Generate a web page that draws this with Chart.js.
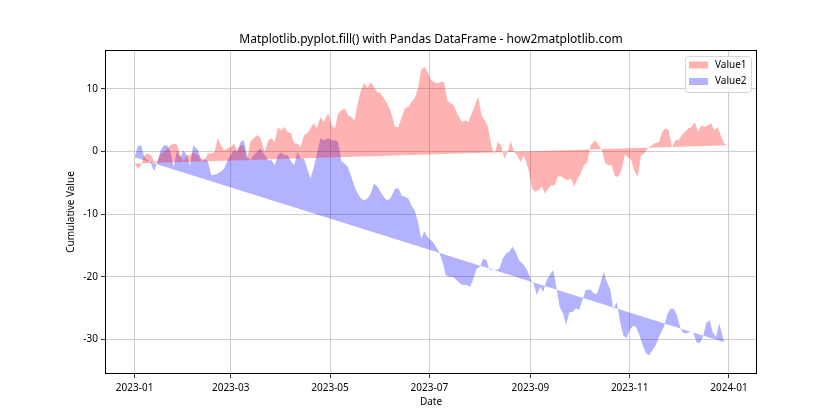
<!DOCTYPE html>
<html>
<head>
<meta charset="utf-8">
<script src="https://cdn.jsdelivr.net/npm/chart.js@4.4.0/dist/chart.umd.min.js"></script>
<style>
  html, body { margin: 0; padding: 0; background: #fff; }
</style>
</head>
<body>
<canvas id="fillChart" width="840" height="420"></canvas>
<script>
// fill() with a cumulative random walk, two series over 2023

const chartTitle = 'Matplotlib.pyplot.fill() with Pandas DataFrame - how2matplotlib.com';
const seriesNames = ['Value1', 'Value2'];
const xTickDays = [0, 59, 120, 181, 243, 304, 365];
const xTickLabels = ['2023-01', '2023-03', '2023-05', '2023-07', '2023-09', '2023-11', '2024-01'];
const yTicks = [-30, -20, -10, 0, 10];

// days since 2023-01-01
const days1 = [
  0, 2, 4, 6, 8, 10, 12, 14, 16, 18, 20, 22, 24, 26, 28, 30, 32, 34, 36, 39, 41, 43, 45, 47, 49, 51, 53,
  55, 57, 59, 61, 63, 65, 67, 69, 71, 73, 75, 77, 80, 82, 84, 86, 88, 90, 92, 94, 96, 98, 100, 102, 104, 106, 108, 110, 112, 114,
  116, 119, 121, 123, 125, 127, 129, 131, 133, 135, 137, 139, 141, 143, 145, 147, 149, 151, 153, 155, 157, 160, 162, 164, 166, 168, 170, 172, 174, 176,
  178, 180, 182, 184, 186, 188, 190, 192, 194, 196, 198, 201, 203, 205, 207, 209, 211, 213, 215, 217, 219, 221, 223, 225, 227, 229, 231, 233, 235, 237,
  239, 242, 244, 246, 248, 250, 252, 254, 256, 258, 260, 262, 264, 266, 268, 270, 272, 274, 276, 278, 280, 283, 285, 287, 289, 291, 293, 295, 297, 299,
  301, 303, 305, 307, 309, 311, 313, 315, 317, 319, 322, 324, 326, 328, 330, 332, 334, 336, 338, 340, 342, 344, 346, 348, 350, 352, 354, 356, 358, 360, 362, 364
];
const value1 = [
  -1.9, -2.7, -2.2, -0.6, -0.3, -0.6, -1.6, -1.6, -0.3, -0.1, 0.5, 1.0, 1.3, 1.1, -0.6, -1.6, -0.6, -0.6, -0.1, -0.6, -1.1, -1.4, -0.3, -0.3, -0.1, 2.1, 1.0,
  0.2, 0.5, 0.7, 1.3, 0.2, 1.0, 1.0, -1.4, 1.5, 2.1, 2.6, 2.3, -0.1, 1.8, 2.1, 1.5, 3.9, 3.4, 3.9, 3.1, 2.9, 1.3, 1.3, 0.7, 2.6, 2.9, 3.7, 4.5, 3.7, 5.5,
  4.7, 6.1, 4.2, 3.7, 6.1, 6.6, 6.9, 5.8, 5.5, 5.0, 7.7, 9.8, 10.9, 10.1, 11.1, 10.3, 9.5, 9.3, 8.5, 7.7, 6.6, 3.9, 3.9, 5.5, 6.9, 7.1, 7.9, 8.5, 10.1, 13.0,
  13.5, 12.7, 11.4, 11.1, 10.9, 11.1, 11.1, 8.2, 7.7, 7.4, 6.1, 4.7, 5.0, 4.7, 6.1, 7.4, 8.7, 5.8, 5.0, 3.9, 1.0, -0.6, 1.5, 1.0, -1.1, -0.1, 1.7, -0.1, -0.6, -1.7,
  -0.6, -3.0, -5.9, -6.4, -6.2, -5.6, -6.7, -5.9, -5.4, -5.4, -4.0, -4.0, -4.3, -4.6, -4.3, -5.6, -4.3, -3.5, -2.2, -1.7, 1.0, 1.8, 1.0, 0.2, -1.9, -2.2, -2.2, -4.0, -4.0, -3.0,
  -0.5, -0.9, -1.4, -3.2, -4.0, -0.6, -0.3, 0.5, 0.9, 1.3, 1.5, 3.1, 3.7, 3.4, 0.7, 1.8, 1.8, 2.6, 3.1, 3.7, 3.9, 4.7, 3.1, 4.2, 3.9, 4.2, 4.5, 3.4, 3.9, 2.6, 1.3, 1.0
];

const days2 = [
  0, 2, 4, 6, 8, 10, 12, 14, 16, 18, 20, 22, 24, 26, 28, 30, 32, 34, 36, 39, 41, 43, 45, 47, 49, 51, 53,
  55, 57, 59, 61, 63, 65, 67, 69, 71, 73, 75, 77, 80, 82, 84, 86, 88, 90, 92, 94, 96, 98, 100, 102, 104, 106, 108, 110, 112, 114,
  116, 119, 121, 123, 125, 127, 129, 131, 133, 135, 137, 139, 141, 143, 145, 147, 149, 151, 153, 155, 157, 160, 162, 164, 166, 168, 170, 172, 174, 176,
  178, 179, 181, 183, 185, 187, 189, 191, 193, 195, 197,
  200, 202, 204, 206, 208, 210, 212, 214, 216, 218, 220, 222, 224, 226, 228, 230, 232, 234, 236,
  239, 241, 243, 245, 247, 249, 251, 253, 255, 257, 259, 261, 263, 265, 267, 269, 271, 273, 275, 277,
  280, 282, 284, 286, 288, 290, 292, 294, 296, 298,
  300, 302, 304, 306, 308, 310, 312, 314, 316, 318, 320, 322,
  325, 327, 329, 331, 333, 335, 337, 339, 341, 343, 345, 347, 349, 351, 353, 355, 357, 359, 362, 364
];
const value2 = [
  -0.9, 0.9, 1.0, -0.9, -1.4, -1.9, -3.2, -1.6, 0.2, 1.0, 1.0, -0.1, -2.5, 0.2, -0.9, 0.2, -0.6, -2.2, 1.0, 0.2, -1.6, -1.1, -1.6, -3.8, -3.7, -3.5, -3.2,
  -2.7, -1.4, -0.6, 0.2, -0.1, 1.5, 1.8, -0.6, -1.4, -0.6, -0.1, 0.5, -0.6, -1.4, -1.4, -2.2, -0.6, -0.1, -0.6, -0.6, -1.6, -2.2, -0.1, -1.1, -1.1, -2.7, -4.3, -2.5, -0.3, 2.1,
  1.8, 2.1, 1.8, 1.8, 1.5, -1.6, -1.9, -2.5, -4.0, -5.6, -6.7, -7.5, -7.8, -7.5, -6.7, -5.1, -5.6, -6.4, -7.2, -7.8, -7.5, -5.9, -5.9, -7.0, -7.2, -7.5, -8.6, -9.4, -11.2, -13.9,
  -12.7, -13.3, -13.9, -14.4, -15.2, -16.0, -17.6, -19.7, -20.0, -20.0, -20.3,
  -21.1, -21.3, -21.3, -21.6, -20.3, -18.7, -18.4, -17.1, -17.3, -18.9, -18.9, -18.9, -18.7, -17.1, -16.3, -16.0, -15.2, -16.0, -17.3,
  -18.1, -18.9, -20.3, -21.1, -22.9, -21.6, -22.4, -20.5, -19.7, -18.9, -21.6, -24.8, -25.8, -27.7, -25.6, -25.6, -25.0, -25.3, -23.7, -22.1,
  -22.0, -22.7, -22.7, -21.1, -19.2, -20.8, -21.9, -25.3, -24.0, -27.0,
  -29.3, -29.8, -28.5, -27.8, -28.0, -29.3, -30.9, -32.2, -32.5, -31.7, -30.9, -29.6,
  -28.0, -26.1, -25.1, -25.1, -26.1, -28.0, -29.0, -29.0, -28.8, -28.8, -30.4, -30.6, -29.6, -27.4, -26.9, -28.8, -29.6, -27.4, -30.4, -30.6
];

const fillColors = ['rgba(255, 0, 0, 0.3)', 'rgba(0, 0, 255, 0.3)'];

// plt.fill closes the polygon: the last point joins back to the first one,
// so each series is filled against the straight line between its two ends
function toPoints(days, vals) {
  return days.map((d, i) => ({ x: d, y: vals[i] }));
}
function closingLine(days, vals) {
  const n = days.length - 1;
  return [{ x: days[0], y: vals[0] }, { x: days[n], y: vals[n] }];
}

function seriesSet(name, days, vals, color) {
  return [
    { label: name, data: toPoints(days, vals), fill: '+1', backgroundColor: color,
      borderColor: 'rgba(0,0,0,0)', borderWidth: 0, pointRadius: 0, tension: 0 },
    { label: name + ' close', data: closingLine(days, vals), fill: false,
      borderColor: 'rgba(0,0,0,0)', borderWidth: 0, pointRadius: 0, tension: 0 }
  ];
}

Chart.defaults.font.family = '"Noto Sans", sans-serif';
Chart.defaults.font.size = 10;
Chart.defaults.color = '#000';

const decorations = {
  id: 'decorations',
  afterDraw(chart) {
    const { ctx, chartArea: a } = chart;
    ctx.save();
    // axes box
    ctx.strokeStyle = '#000';
    ctx.lineWidth = 1;
    ctx.strokeRect(Math.round(a.left) + 0.5, Math.round(a.top) + 0.5,
      Math.round(a.width) - 1, Math.round(a.height) - 1);

    // title centred over the axes
    ctx.fillStyle = '#000';
    ctx.font = '12px "Noto Sans", sans-serif';
    ctx.textAlign = 'center';
    ctx.textBaseline = 'middle';
    ctx.fillText(chartTitle, (a.left + a.right) / 2, 40);

    // legend, upper right
    const w = 66, h = 36;
    const x0 = a.right - 6 - w, y0 = a.top + 6;
    ctx.fillStyle = 'rgba(255,255,255,0.8)';
    ctx.strokeStyle = '#d6d6d6';
    ctx.beginPath();
    ctx.roundRect(x0 + 0.5, y0 + 0.5, w, h, 3);
    ctx.fill();
    ctx.stroke();
    ctx.font = '10px "Noto Sans", sans-serif';
    ctx.textAlign = 'left';
    seriesNames.forEach((name, i) => {
      const cy = y0 + 9 + i * 16.5;
      ctx.fillStyle = fillColors[i];
      ctx.fillRect(x0 + 4, cy - 3.5, 19, 7);
      ctx.fillStyle = '#000';
      ctx.fillText(name, x0 + 30, cy);
    });
    ctx.restore();
  }
};

const gridStyle = { color: '#c2c2c2', lineWidth: 0.8, tickLength: 4, tickColor: '#000', tickWidth: 0.8 };

new Chart(document.getElementById('fillChart').getContext('2d'), {
  type: 'line',
  data: {
    datasets: [
      ...seriesSet(seriesNames[0], days1, value1, fillColors[0]),
      ...seriesSet(seriesNames[1], days2, value2, fillColors[1])
    ]
  },
  options: {
    responsive: false,
    animation: false,
    layout: { padding: { left: 58, right: 83, top: 50, bottom: 0 } },
    plugins: {
      legend: { display: false },
      title: { display: false },
      tooltip: { enabled: false },
      filler: { propagate: false }
    },
    scales: {
      x: {
        type: 'linear',
        min: -18.2,
        max: 382.2,
        z: 1,
        grid: gridStyle,
        border: { display: false },
        afterBuildTicks: s => { s.ticks = xTickDays.map(v => ({ value: v })); },
        afterFit: s => { s.height = 46; },
        ticks: {
          padding: 4,
          maxRotation: 0,
          autoSkip: false,
          callback: (v, i) => xTickLabels[i]
        },
        title: { display: true, text: 'Date', font: { size: 10 }, padding: { top: 0, bottom: 12 } }
      },
      y: {
        type: 'linear',
        min: -35.5,
        max: 16.2,
        z: 1,
        grid: gridStyle,
        border: { display: false },
        afterBuildTicks: s => { s.ticks = yTicks.map(v => ({ value: v })); },
        afterFit: s => { s.width = 47; },
        ticks: { padding: 3 },
        title: { display: true, text: 'Cumulative Value', font: { size: 10 }, padding: { top: 7, bottom: 0 } }
      }
    }
  },
  plugins: [decorations]
});
</script>
</body>
</html>
